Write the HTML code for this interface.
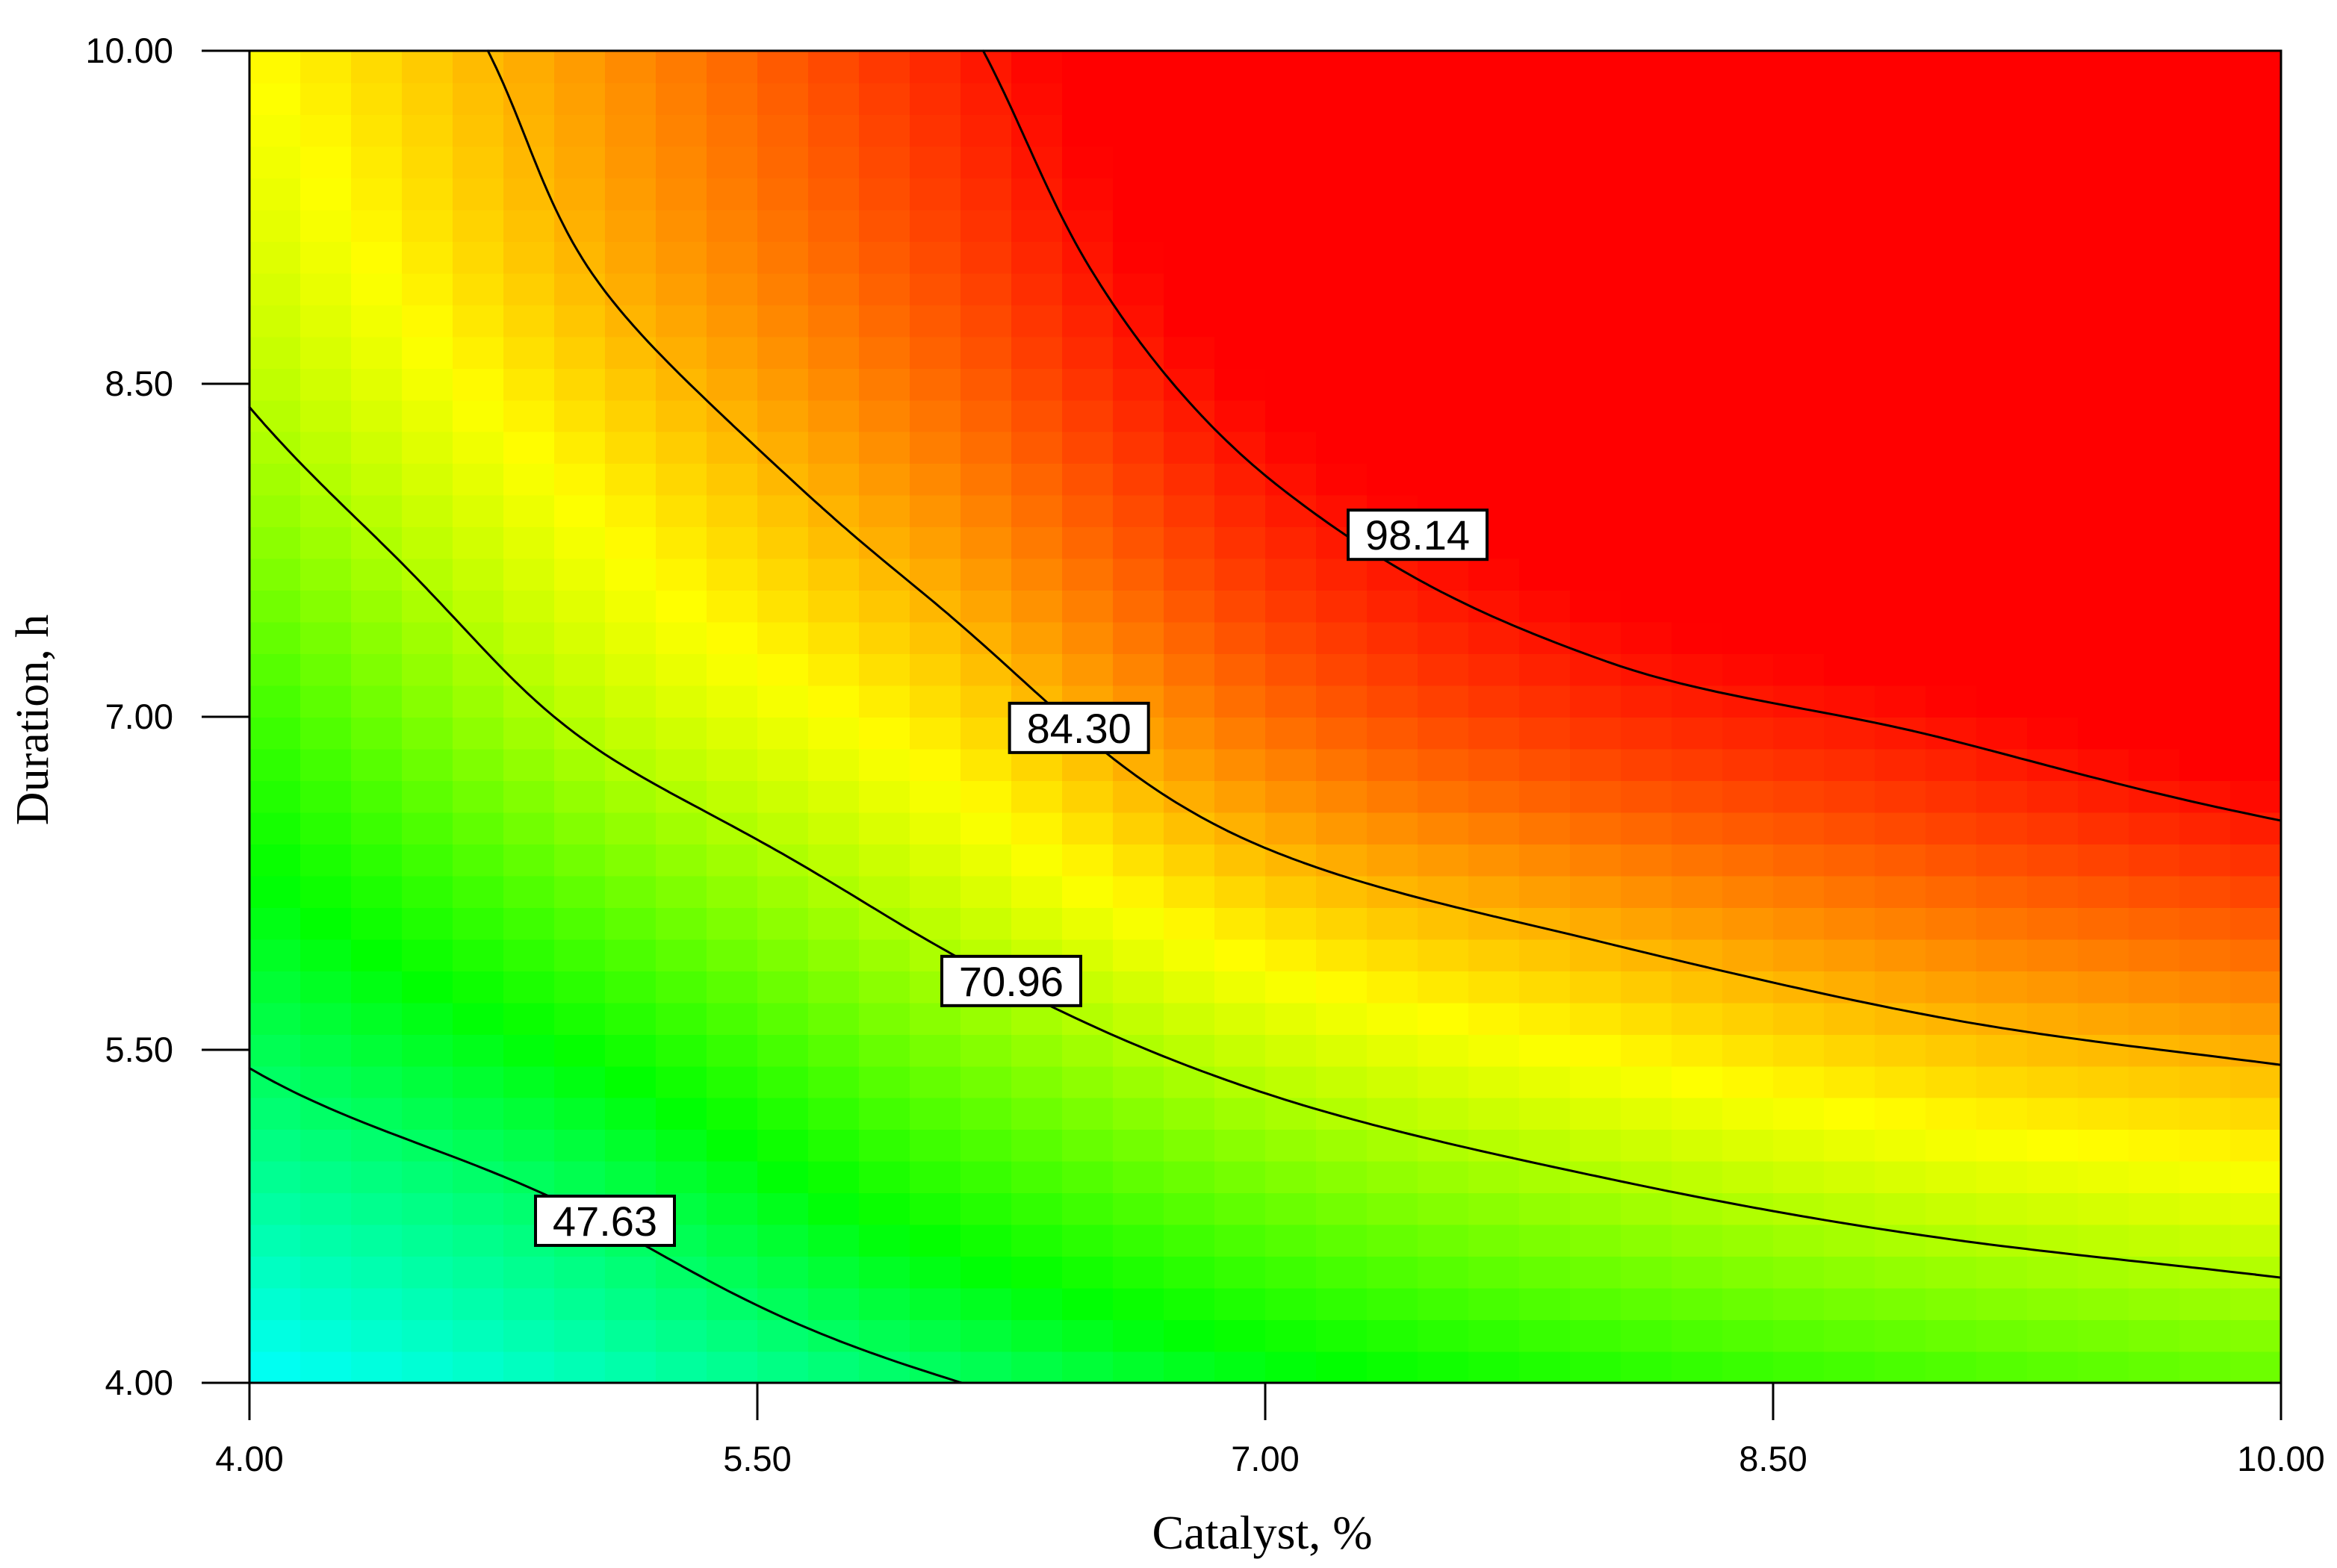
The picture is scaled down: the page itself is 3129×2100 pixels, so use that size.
<!DOCTYPE html>
<html><head><meta charset="utf-8"><style>
html,body{margin:0;padding:0;background:#fff;}
svg{display:block;}
</style></head><body>
<svg id="chart" width="3129" height="2100" viewBox="0 0 3129 2100" xmlns="http://www.w3.org/2000/svg">
<g id="heat" shape-rendering="crispEdges"></g>
<g id="contours"></g>
<rect x="334" y="68" width="2720" height="1784" fill="none" stroke="#000" stroke-width="3"/>
<g id="labels"></g>
<g id="axes"></g>
<text x="1690" y="2074" font-family="Liberation Serif, serif" font-size="64" text-anchor="middle">Catalyst, %</text>
<text x="0" y="0" transform="translate(64,964) rotate(-90)" font-family="Liberation Serif, serif" font-size="62" text-anchor="middle">Duration, h</text>
</svg>
<script>
const xGrid=[4,5,6,7,8,9,10];
const tGrid=[4,5,6,7,8,9,10];
const rowT4=[36,41,47,53,57.5,61,64];
const rowT5=[44.3,50,59.5,67,72,76,78.5];
const rowT6=[52.2,61.5,71,79.5,84.5,88.5,91.5];
const rowT7=[60,72,80,90.5,96,99,103];
const rowT8=[68.5,78.5,87.5,97.6,103,106,108];
const rowT9=[74,84.2,93,103,108,111,113];
const rowT10=[78,87,96.5,106,111,114,117];
const contourLevels=[47.63,70.96,84.30,98.14];
const labelText=["47.63","70.96","84.30","98.14"];
const labelX=[5.05,6.25,6.45,7.45];
const labelT=[4.73,5.81,6.95,7.82];
const xTicks=[4,5.5,7,8.5,10];
const yTicks=[4,5.5,7,8.5,10];
const xTickLabels=["4.00","5.50","7.00","8.50","10.00"];
const yTickLabels=["4.00","5.50","7.00","8.50","10.00"];
const grid=[rowT4,rowT5,rowT6,rowT7,rowT8,rowT9,rowT10];
const NS="http://www.w3.org/2000/svg";
const X0=334,X1=3054,Y0=1852,Y1=68;
function sx(x){return X0+(x-4)/6*(X1-X0);}
function sy(t){return Y0-(t-4)/6*(Y0-Y1);}
function cr(p0,p1,p2,p3,s){
  return 0.5*((2*p1)+(-p0+p2)*s+(2*p0-5*p1+4*p2-p3)*s*s+(-p0+3*p1-3*p2+p3)*s*s*s);
}
function interp1(arr,u){
  const n=arr.length;let i=Math.floor(u);if(i>=n-1)i=n-2;if(i<0)i=0;const s=u-i;
  const g=k=>k<0?2*arr[0]-arr[1]:(k>=n?2*arr[n-1]-arr[n-2]:arr[k]);
  return cr(g(i-1),g(i),g(i+1),g(i+2),s);
}
function f(x,t){
  const u=(x-xGrid[0])/(xGrid[1]-xGrid[0]);
  const v=(t-tGrid[0])/(tGrid[1]-tGrid[0]);
  const col=grid.map(row=>interp1(row,u));
  return interp1(col,v);
}
function color(y){
  const stops=[[30,0,200,255],[36,0,255,255],[55,0,255,0],[78,255,255,0],[100,255,0,0]];
  if(y<=stops[0][0])return `rgb(0,200,255)`;
  for(let k=0;k<stops.length-1;k++){
    const s=stops[k],e=stops[k+1];
    if(y<=e[0]){const p=(y-s[0])/(e[0]-s[0]);
      return `rgb(${Math.round(s[1]+(e[1]-s[1])*p)},${Math.round(s[2]+(e[2]-s[2])*p)},${Math.round(s[3]+(e[3]-s[3])*p)})`;}
  }
  return 'rgb(255,0,0)';
}
const heat=document.getElementById('heat');
const NC=40,NR=42;
for(let r=0;r<NR;r++){for(let c=0;c<NC;c++){
  const x=4+(c+0.5)*6/NC,t=4+(r+0.5)*6/NR;
  const rect=document.createElementNS(NS,'rect');
  
  
  const xa=sx(4+c*6/NC),xb=sx(4+(c+1)*6/NC),ya=sy(4+(r+1)*6/NR),yb=sy(4+r*6/NR);
  rect.setAttribute('x',xa.toFixed(1));rect.setAttribute('y',ya.toFixed(1));
  rect.setAttribute('width',(xb-xa+1).toFixed(1));rect.setAttribute('height',(yb-ya+1).toFixed(1));
  rect.setAttribute('fill',color(f(x,t)));
  heat.appendChild(rect);
}}
const cg=document.getElementById('contours');
const N=160;
const V=[];
for(let j=0;j<=N;j++){V.push([]);for(let i=0;i<=N;i++)V[j].push(f(4+i*6/N,4+j*6/N));}
contourLevels.forEach((L)=>{
  let d='';
  for(let j=0;j<N;j++)for(let i=0;i<N;i++){
    const xa=4+i*6/N,xb=4+(i+1)*6/N,ta=4+j*6/N,tb=4+(j+1)*6/N;
    const P=[[xa,ta,V[j][i]],[xb,ta,V[j][i+1]],[xb,tb,V[j+1][i+1]],[xa,tb,V[j+1][i]]];
    const pts=[];
    for(let k=0;k<4;k++){const p=P[k],q=P[(k+1)%4];
      if((p[2]>=L)!==(q[2]>=L)){const s=(L-p[2])/(q[2]-p[2]);pts.push([p[0]+(q[0]-p[0])*s,p[1]+(q[1]-p[1])*s]);}}
    if(pts.length>=2){d+=`M${sx(pts[0][0]).toFixed(1)} ${sy(pts[0][1]).toFixed(1)}L${sx(pts[1][0]).toFixed(1)} ${sy(pts[1][1]).toFixed(1)}`;}
    if(pts.length===4){d+=`M${sx(pts[2][0]).toFixed(1)} ${sy(pts[2][1]).toFixed(1)}L${sx(pts[3][0]).toFixed(1)} ${sy(pts[3][1]).toFixed(1)}`;}
  }
  const p=document.createElementNS(NS,'path');
  
  
  p.setAttribute('d',d);p.setAttribute('stroke','#000');p.setAttribute('stroke-width','3');p.setAttribute('fill','none');p.setAttribute('stroke-linecap','round');
  cg.appendChild(p);
});
const lg=document.getElementById('labels');
labelText.forEach((s,k)=>{
  const cx=sx(labelX[k]),cy=sy(labelT[k]);
  const r=document.createElementNS(NS,'rect');
  
  
  r.setAttribute('x',cx-93);r.setAttribute('y',cy-33);r.setAttribute('width',186);r.setAttribute('height',66);
  r.setAttribute('fill','#fff');r.setAttribute('stroke','#000');r.setAttribute('stroke-width','4');
  lg.appendChild(r);
  const tx=document.createElementNS(NS,'text');
  
  
  tx.setAttribute('x',cx);tx.setAttribute('y',cy+20);tx.setAttribute('text-anchor','middle');
  tx.setAttribute('font-family','Liberation Sans, sans-serif');tx.setAttribute('font-size','56');
  tx.textContent=s;lg.appendChild(tx);
});
const ax=document.getElementById('axes');
xTicks.forEach((v,k)=>{
  const l=document.createElementNS(NS,'line');
  
  
  l.setAttribute('x1',sx(v));l.setAttribute('x2',sx(v));l.setAttribute('y1',Y0);l.setAttribute('y2',Y0+50);
  l.setAttribute('stroke','#000');l.setAttribute('stroke-width','3');ax.appendChild(l);
  const t=document.createElementNS(NS,'text');
  
  
  t.setAttribute('x',sx(v));t.setAttribute('y',1970);t.setAttribute('text-anchor','middle');
  t.setAttribute('font-family','Liberation Sans, sans-serif');t.setAttribute('font-size','47');
  t.textContent=xTickLabels[k];ax.appendChild(t);
});
yTicks.forEach((v,k)=>{
  const l=document.createElementNS(NS,'line');
  
  
  l.setAttribute('x1',X0-64);l.setAttribute('x2',X0);l.setAttribute('y1',sy(v));l.setAttribute('y2',sy(v));
  l.setAttribute('stroke','#000');l.setAttribute('stroke-width','3');ax.appendChild(l);
  const t=document.createElementNS(NS,'text');
  
  
  t.setAttribute('x',232);t.setAttribute('y',sy(v)+16);t.setAttribute('text-anchor','end');
  t.setAttribute('font-family','Liberation Sans, sans-serif');t.setAttribute('font-size','47');
  t.textContent=yTickLabels[k];ax.appendChild(t);
});
</script>
</body></html>
